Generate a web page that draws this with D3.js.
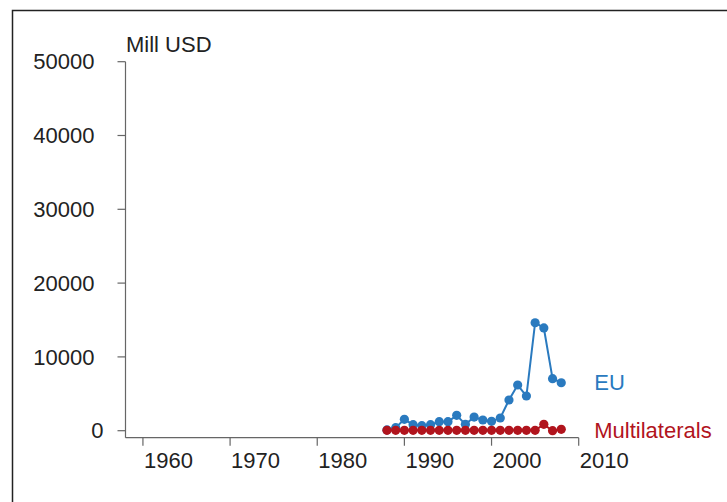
<!DOCTYPE html>
<html>
<head>
<meta charset="utf-8">
<script src="https://cdn.jsdelivr.net/npm/d3@7/dist/d3.min.js"></script>
<style>
  html, body { margin: 0; padding: 0; background: #fff; }
  svg { display: block; font-family: "Liberation Sans", Arial, sans-serif; }
</style>
</head>
<body>
<svg id="chart" width="727" height="502"></svg>
<script>
const years = [1988,1989,1990,1991,1992,1993,1994,1995,1996,1997,1998,1999,2000,2001,2002,2003,2004,2005,2006,2007,2008];
const euValues = [100,410,1540,810,680,810,1220,1220,2080,860,1850,1450,1270,1720,4160,6190,4700,14630,13920,7050,6500];
const multiValues = [50,50,50,50,50,50,50,50,50,50,50,50,50,50,50,50,50,50,860,0,190];
const seriesNames = ["EU", "Multilaterals"];
const seriesColors = ["#2a7abf", "#b1141d"];
const xTicks = [1960,1970,1980,1990,2000,2010];
const yTicks = [0,10000,20000,30000,40000,50000];
const yTitle = "Mill USD";

const svg = d3.select("#chart");
const fontSize = 22;

// outer frame (clipped at right and bottom)
svg.append("rect")
  .attr("x", 12.5).attr("y", 10.5)
  .attr("width", 800).attr("height", 600)
  .attr("fill", "none").attr("stroke", "#222").attr("stroke-width", 1.5);

const x = d3.scaleLinear().domain([1958, 2010]).range([125.5, 578.7]);
const y = d3.scaleLinear().domain([0, 50000]).range([430.7, 61.7]);
const axisY = 437.7;
const axisColor = "#666";

// y axis line
svg.append("line")
  .attr("x1", x(1958)).attr("x2", x(1958))
  .attr("y1", y(50000)).attr("y2", axisY)
  .attr("stroke", axisColor).attr("stroke-width", 1.2);
// x axis line
svg.append("line")
  .attr("x1", x(1958)).attr("x2", x(2010))
  .attr("y1", axisY).attr("y2", axisY)
  .attr("stroke", axisColor).attr("stroke-width", 1.2);

// y ticks
const yt = svg.append("g");
yTicks.forEach(v => {
  yt.append("line")
    .attr("x1", x(1958) - 8).attr("x2", x(1958))
    .attr("y1", y(v)).attr("y2", y(v))
    .attr("stroke", axisColor).attr("stroke-width", 1.2);
  yt.append("text")
    .attr("x", v === 0 ? 103.5 : 94.5)
    .attr("y", y(v))
    .attr("dy", "0.35em")
    .attr("text-anchor", "end")
    .attr("font-size", fontSize)
    .attr("fill", "#222")
    .text(v);
});

// x ticks
const xt = svg.append("g");
xTicks.forEach(v => {
  xt.append("line")
    .attr("x1", x(v)).attr("x2", x(v))
    .attr("y1", axisY).attr("y2", axisY + 8)
    .attr("stroke", axisColor).attr("stroke-width", 1.2);
  xt.append("text")
    .attr("x", x(v) + 1)
    .attr("y", 468)
    .attr("text-anchor", "start")
    .attr("font-size", fontSize)
    .attr("fill", "#222")
    .text(v);
});

// y title
svg.append("text")
  .attr("x", 126).attr("y", 52)
  .attr("font-size", fontSize)
  .attr("fill", "#222")
  .text(yTitle);

// series
const allSeries = [euValues, multiValues];
allSeries.forEach((vals, i) => {
  const pts = years.map((yr, j) => ({year: yr, value: vals[j]}));
  const line = d3.line().x(d => x(d.year)).y(d => y(d.value));
  svg.append("path")
    .datum(pts)
    .attr("d", line)
    .attr("fill", "none")
    .attr("stroke", seriesColors[i])
    .attr("stroke-width", 2);
  svg.append("g").selectAll("circle")
    .data(pts).join("circle")
    .attr("cx", d => x(d.year))
    .attr("cy", d => y(d.value))
    .attr("r", 4.6)
    .attr("fill", seriesColors[i]);
  const last = pts[pts.length - 1];
  svg.append("text")
    .attr("x", x(last.year) + 33)
    .attr("y", i === 0 ? y(last.value) : y(0))
    .attr("dy", "0.35em")
    .attr("font-size", fontSize)
    .attr("fill", seriesColors[i])
    .text(seriesNames[i]);
});
</script>
</body>
</html>
